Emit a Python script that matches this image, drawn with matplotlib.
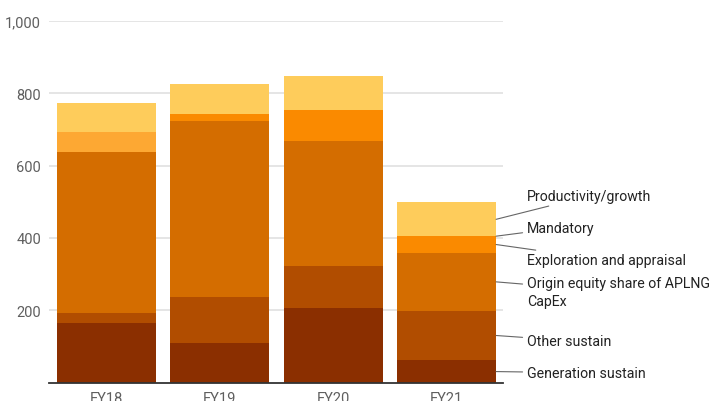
import matplotlib.pyplot as plt
from matplotlib.ticker import FuncFormatter
import numpy as np

plt.rcParams['font.family'] = ['Roboto', 'DejaVu Sans']

years = ['FY18', 'FY19', 'FY20', 'FY21']
series = ['Generation sustain', 'Other sustain', 'Origin equity share of APLNG\nCapEx',
          'Exploration and appraisal', 'Mandatory', 'Productivity/growth']
generation_sustain = [166, 110, 207, 63]
other_sustain = [26, 128, 116, 136]
aplng_capex = [444, 485, 345, 160]
exploration = [0, 19, 85, 46]
mandatory = [56, 0, 0, 0]
productivity = [80, 83, 94, 93]

colors = ['#8b2f00', '#b14d00', '#d46d00', '#fa8a00', '#fda833', '#fecc5b']
# where each series label sits on the right, in data units
label_y = [28, 117, 251, 339, 428, 516]

values = [generation_sustain, other_sustain, aplng_capex, exploration, mandatory, productivity]

fig = plt.figure(figsize=(7.1, 4.02), dpi=100)
ax = fig.add_axes([0.0697, 0.0448, 0.6394, 0.9017])

x = np.arange(len(years))
width = 0.87
bottom = np.zeros(len(years))
mids = []
for vals, c in zip(values, colors):
    vals = np.array(vals, dtype=float)
    ax.bar(x, vals, width, bottom=bottom, color=c, zorder=2)
    mids.append(bottom[-1] + vals[-1] / 2)
    bottom += vals

# leader lines from the last bar to the series labels
x_end = x[-1] + width / 2
for name, m, ly in zip(series, mids, label_y):
    ax.annotate(name, xy=(x_end, m), xytext=(x_end + 0.27, ly),
                textcoords='data', ha='left', va='center', fontsize=10.2,
                color='#222222', annotation_clip=False, linespacing=1.35,
                arrowprops=dict(arrowstyle='-', color='#666666', lw=0.8,
                                shrinkA=1, shrinkB=0))

ax.set_xlim(-0.5, 3.5)
ax.set_ylim(0, 1000)
ax.set_yticks([200, 400, 600, 800, 1000])
ax.yaxis.set_major_formatter(FuncFormatter(lambda v, p: f'{v:,.0f}'))
ax.set_xticks(x)
ax.set_xticklabels(years)
ax.grid(axis='y', color='#e0e0e0', lw=1.2, zorder=0)
ax.tick_params(axis='both', length=0, labelsize=10.5, colors='#5f5f5f')
ax.tick_params(axis='y', pad=6)
ax.tick_params(axis='x', pad=6)
for s in ['top', 'right', 'left']:
    ax.spines[s].set_visible(False)
ax.spines['bottom'].set_color('#333333')
ax.spines['bottom'].set_linewidth(1.3)
ax.spines['bottom'].set_zorder(3)

fig.savefig('out.png', dpi=100)
